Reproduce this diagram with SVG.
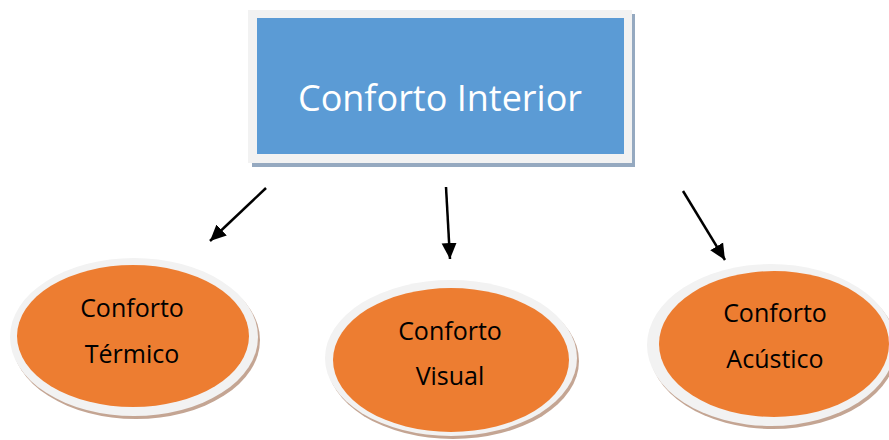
<svg xmlns="http://www.w3.org/2000/svg" width="889" height="440" viewBox="0 0 889 440">
<defs>
<style>
.frame{fill:#f2f2f2}
.oshadow{fill:#c4a593}
.orange{fill:#ed7d31}
.lbl{font-family:"Open Sans","Liberation Sans",sans-serif;font-size:25px;fill:#000;text-anchor:middle}
.title{font-family:"Open Sans","Liberation Sans",sans-serif;font-size:36px;fill:#fff;text-anchor:middle}
.conn{stroke:#000;stroke-width:2.5;fill:none;marker-end:url(#ah)}
</style>
<marker id="ah" markerUnits="userSpaceOnUse" markerWidth="18" markerHeight="18" viewBox="0 0 18 18" refX="16" refY="9" orient="auto">
<path d="M0,1.5 L16,9 L0,16.5 Z" fill="#000"/>
</marker>
</defs>
<rect width="889" height="440" fill="#fff"/>
<g id="node-interior">
<rect x="252" y="14" width="383" height="153" fill="#95a9c0"/>
<rect x="248" y="10" width="384" height="153" class="frame"/>
<rect x="257" y="18" width="367" height="136" fill="#5b9bd5"/>
<text x="440" y="111" class="title">Conforto Interior</text>
</g>
<g id="node-termico">
<ellipse cx="136" cy="340" rx="124" ry="79" class="oshadow"/>
<ellipse cx="134" cy="337" rx="124" ry="79" class="frame"/>
<ellipse cx="133" cy="336" rx="116" ry="71" class="orange"/>
<text x="132" y="317" class="lbl">Conforto</text>
<text x="132" y="363" class="lbl">Térmico</text>
</g>
<g id="node-visual">
<ellipse cx="453" cy="361" rx="126" ry="78" class="oshadow"/>
<ellipse cx="451" cy="358" rx="126" ry="78" class="frame"/>
<ellipse cx="451" cy="360" rx="118" ry="72" class="orange"/>
<text x="450" y="340" class="lbl">Conforto</text>
<text x="450" y="385" class="lbl">Visual</text>
</g>
<g id="node-acustico">
<ellipse cx="773" cy="348" rx="124" ry="81" class="oshadow"/>
<ellipse cx="771" cy="345" rx="124" ry="81" class="frame"/>
<ellipse cx="774" cy="344" rx="115" ry="73" class="orange"/>
<text x="775" y="322" class="lbl">Conforto</text>
<text x="775" y="368" class="lbl">Acústico</text>
</g>
<g id="connectors">
<line x1="266" y1="188" x2="210" y2="241" class="conn"/>
<line x1="446" y1="187" x2="450" y2="259" class="conn"/>
<line x1="683" y1="191" x2="725" y2="260" class="conn"/>
</g>
</svg>
